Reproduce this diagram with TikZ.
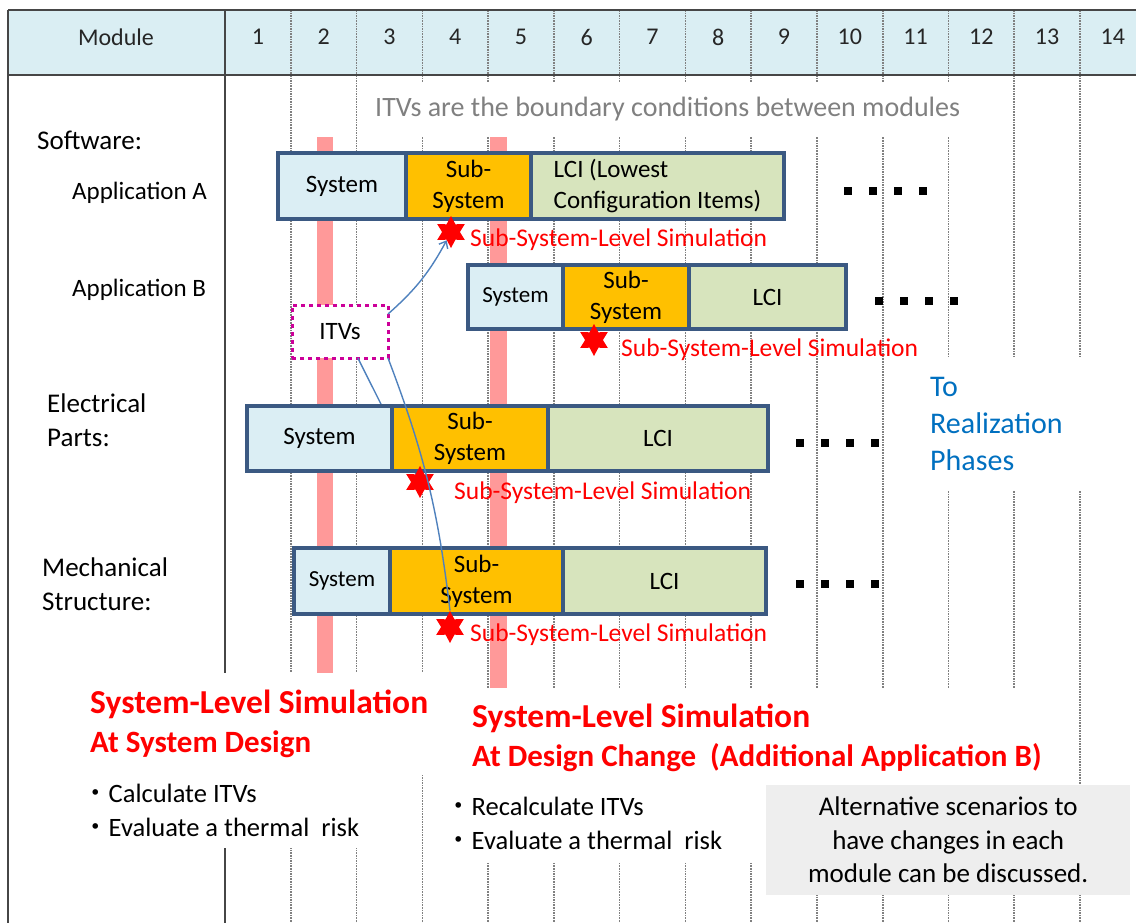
\documentclass[tikz,border=0pt]{standalone}
\usepackage{fontspec}
\setmainfont{Carlito}
\newfontfamily\cjkfont{Noto Sans CJK JP}
\definecolor{simframe}{RGB}{59,89,130}
\definecolor{simsys}  {RGB}{219,238,244}
\definecolor{simsub}  {RGB}{255,192,0}
\definecolor{simlci}  {RGB}{215,228,189}
\definecolor{simhead} {RGB}{218,238,243}
\definecolor{simbar}  {RGB}{255,153,153}
\definecolor{simred}  {RGB}{255,0,0}
\definecolor{simblue} {RGB}{0,112,192}
\definecolor{simarrow}{RGB}{79,129,189}
\definecolor{simgray} {RGB}{128,128,128}
\definecolor{simmag}  {RGB}{204,0,153}
\definecolor{simline} {RGB}{70,70,70}
\definecolor{simnote} {RGB}{238,238,238}
\usetikzlibrary{arrows.meta,shapes.geometric}
\newcommand{\bul}{{\cjkfont ・}}
\newcommand{\sndline}{\fontsize{31}{39}\selectfont}
\tikzset{
  cell/.style={rectangle,draw=simframe,line width=4.5pt,fill=#1,anchor=north west,
               inner sep=0pt,outer sep=0pt,minimum height=66pt,align=center,
               font=\fontsize{25}{31}\selectfont},
  cell/.default=simsys,
  lab/.style={anchor=west,inner sep=0pt,align=left,font=\fontsize{27}{33.5}\selectfont},
  simstar/.style={star,star points=6,star point ratio=1.8,fill=simred,
                  minimum size=32pt,inner sep=0pt},
  simtxt/.style={anchor=west,inner sep=0pt,text=simred,font=\fontsize{25.5}{30}\selectfont},
  link/.style={simarrow,line width=1.4pt},
  arr/.style={-{Straight Barb[length=6pt,width=10pt]},link},
  blank/.style={fill=white,anchor=north west,inner xsep=5pt,inner ysep=0pt,align=flush left},
  colline/.style={simgray,densely dotted,line width=1.6pt},
  headtxt/.style={text=black!85,font=\fontsize{24}{28}\selectfont},
}

\begin{document}
\begin{tikzpicture}[x=1pt,y=-1pt]
  \useasboundingbox (0,0) rectangle (1136,923);
  \fill[simhead] (8,10) rectangle (1136,75);
  \foreach \k in {1,...,13}
    \draw[colline] ({225+65.77*\k},10) -- ({225+65.77*\k},923);
  \draw[simline,line width=2.5pt] (8,10) -- (1136,10) (8,75) -- (1136,75)
    (8,10) -- (8,923) (225,10) -- (225,923);
  \node[headtxt] (module) at (116,37) {Module};
  \foreach \k in {1,...,14}
    \node[headtxt] (col\k) at ({225+65.77*\k-32.9},37) {\k};

  \fill[simbar] (317,137) rectangle (333,673);
  \fill[simbar] (490,137) rectangle (507,688);

  \node[blank,minimum height=54pt,text=simgray,font=\fontsize{28}{32}\selectfont]
    (bound) at (370,82) {ITVs are the boundary conditions between modules};
  \node[draw=simmag,dash pattern=on 4pt off 4pt,line width=3pt,fill=white,
        anchor=north west,outer sep=0pt,minimum width=96pt,minimum height=53pt,
        font=\fontsize{25}{30}\selectfont] (itvs) at (292,305) {ITVs};
  \coordinate (cstar) at (420,482);
  \draw[link] (itvs.-56) -- (cstar);

  \node[cell=simsys,minimum width=128pt] (aSys) at (278,153) {System};
  \node[cell=simsub,minimum width=125pt] (aSub) at (aSys.north east) {Sub-\\System};
  \node[cell=simlci,minimum width=253pt,align=left] (aLci) at (aSub.north east)
    {LCI (Lowest\\Configuration Items)};

  \node[cell=simsys,minimum width=95pt,minimum height=64pt,font=\fontsize{23}{30}\selectfont]
    (bSys) at (468,265) {System};
  \node[cell=simsub,minimum width=126pt,minimum height=64pt] (bSub) at (bSys.north east) {Sub-\\System};
  \node[cell=simlci,minimum width=157pt,minimum height=64pt] (bLci) at (bSub.north east) {LCI};

  \node[cell=simsys,minimum width=145pt,minimum height=65pt] (cSys) at (247,406) {System};
  \node[cell=simsub,minimum width=156pt,minimum height=65pt] (cSub) at (cSys.north east) {Sub-\\System};
  \node[cell=simlci,minimum width=220pt,minimum height=65pt] (cLci) at (cSub.north east) {LCI};

  \node[cell=simsys,minimum width=96pt,font=\fontsize{23}{30}\selectfont]
    (dSys) at (294,548) {System};
  \node[cell=simsub,minimum width=173pt] (dSub) at (dSys.north east) {Sub-\\System};
  \node[cell=simlci,minimum width=203pt] (dLci) at (dSub.north east) {LCI};

  \node[simstar] (starA) at (451,232) {};
  \node[simstar] (starB) at (594,340) {};
  \node[simstar] (starC) at (cstar) {};
  \node[simstar] (starD) at (450,627) {};
  \node[simtxt] (simA) at (470,240) {Sub-System-Level Simulation};
  \node[simtxt] (simB) at (621,350) {Sub-System-Level Simulation};
  \node[simtxt] (simC) at (454,493) {Sub-System-Level Simulation};
  \node[simtxt] (simD) at (470,635) {Sub-System-Level Simulation};

  \draw[arr] (itvs.20) to[bend right=10] (starA);
  \draw[link] (itvs.south east) to[bend left=7] (starD.north);

  \foreach \y/\x in {187/844,297/875,439/796,580/796}
    \foreach \i in {0,...,3}
      \fill ({\x+25*\i},\y) rectangle ++(8,8);

  \node[lab] (soft) at (37,140) {Software:};
  \node[lab,font=\fontsize{25}{30}\selectfont] (appA) at (72,193) {Application A};
  \node[lab,font=\fontsize{25}{30}\selectfont] (appB) at (72,290) {Application B};
  \node[lab] (elec) at (47,420) {Electrical\\Parts:};
  \node[lab] (mech) at (42,584) {Mechanical\\Structure:};

  \node[blank,minimum height=132pt,text width=165pt,text=simblue,
        font=\fontsize{30}{37}\selectfont] (real) at (925,358) {To\\Realization\\Phases};

  \node[blank,minimum height=102pt,text width=345pt,text=simred,
        font=\bfseries\fontsize{33.5}{39}\selectfont] (designA) at (85,673)
    {System-Level Simulation\\\sndline At System Design};
  \node[blank,minimum height=75pt,text width=318pt,font=\fontsize{26.5}{34}\selectfont]
    (bulletA) at (77,773) {\bul Calculate ITVs\\\bul Evaluate a thermal\ \ risk};
  \node[blank,minimum height=100pt,text width=595pt,text=simred,
        font=\bfseries\fontsize{33.5}{39}\selectfont] (designB) at (467,688)
    {System-Level Simulation\\\sndline At Design Change\ \ (Additional Application B)};
  \node[blank,minimum height=77pt,text width=310pt,font=\fontsize{26.5}{34}\selectfont]
    (bulletB) at (440,785) {\bul Recalculate ITVs\\\bul Evaluate a thermal\ \ risk};
  \node[fill=simnote,anchor=north west,minimum width=364pt,minimum height=110pt,
        align=center,font=\fontsize{27}{33.5}\selectfont] (scen) at (766,785)
    {Alternative scenarios to\\have changes in each\\module can be discussed.};
\end{tikzpicture}
\end{document}
